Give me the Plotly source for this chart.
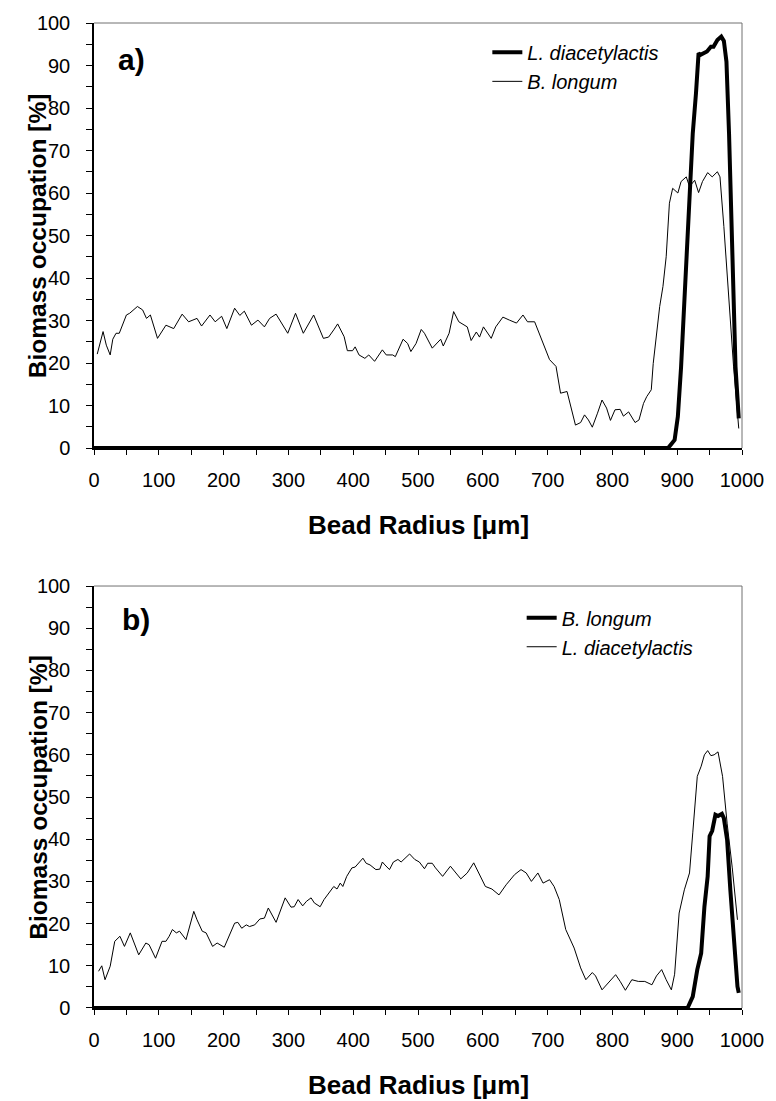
import plotly.graph_objects as go

# ---------------- data ----------------
# Panel a) B. longum (thin line)
a_blong_x = [5, 14, 19, 25, 29, 34, 39, 50, 55, 67, 75, 81, 87, 98, 111, 123, 136, 146, 159, 166,
             179, 187, 197, 205, 217, 225, 232, 243, 253, 263, 271, 281, 299, 311, 323, 339, 354,
             362, 370, 376, 386, 391, 399, 403, 409, 418, 424, 433, 445, 451, 461, 465, 477, 484,
             489, 497, 505, 510, 522, 535, 539, 548, 555, 563, 576, 582, 590, 595, 601, 613, 620,
             631, 641, 652, 662, 669, 680, 687, 695, 703, 713, 720, 730, 743, 751, 757, 763, 769,
             777, 784, 791, 797, 804, 812, 817, 825, 835, 841, 848, 853, 860, 863, 873, 878, 883,
             888, 893, 901, 906, 914, 919, 927, 933, 939, 947, 954, 962, 966, 972, 980, 987, 995]
a_blong_y = [22.1, 27.4, 24.2, 21.9, 25.6, 27, 27, 31.3, 31.7, 33.3, 32.5, 30.5, 31.3, 25.8, 28.9,
             28.1, 31.5, 29.7, 30.5, 28.7, 31.3, 29.7, 31, 28.1, 32.9, 31.2, 32.2, 28.9, 30.1, 28.5,
             30.5, 31.5, 27, 31.7, 27, 31.3, 25.8, 26.1, 27.8, 29.2, 26.2, 22.9, 22.9, 23.8, 21.9,
             21.1, 21.9, 20.4, 23.1, 21.9, 21.9, 21.5, 25.6, 24.6, 22.7, 24.6, 27.9, 27, 23.5, 25.6,
             24, 27, 32.1, 29.7, 28.5, 25.3, 27.3, 26.1, 28.5, 25.8, 28.5, 30.8, 30.1, 29.4, 31.3,
             29.7, 29.7, 27, 23.5, 20.8, 19.2, 12.9, 13.3, 5.4, 6, 7.8, 6.6, 4.9, 8.2, 11.3, 9.4,
             6.5, 9, 9.1, 7.5, 8.5, 6, 6.6, 10.5, 12.1, 13.7, 19.9, 33.3, 38, 45, 57.6, 61.1, 60,
             62.7, 63.8, 61.5, 63, 60.1, 62.7, 64.8, 63.8, 65, 63.8, 52.1, 34.8, 19.1, 4.6]

# Panel a) L. diacetylactis (thick line)
a_ldia_x = [0, 880, 886, 896, 901, 906, 911, 916, 924, 929, 933, 936, 941, 946, 952, 956, 962,
            968, 972, 976, 980, 985, 990, 995]
a_ldia_y = [0, 0, 0, 1.9, 7.4, 19.1, 34.8, 50.5, 74, 83.5, 92.9, 92.5, 92.9, 93.3, 94.4, 94.4,
            96, 96.8, 95.8, 90.9, 74, 42.7, 19.1, 7]

# Panel b) L. diacetylactis (thin line)
b_ldia_x = [7, 12, 17, 25, 32, 40, 47, 56, 62, 69, 80, 85, 95, 105, 111, 116, 121, 127, 132, 142,
            154, 159, 167, 173, 183, 190, 201, 208, 217, 222, 228, 235, 240, 248, 256, 263, 269,
            281, 295, 304, 309, 315, 322, 328, 335, 340, 349, 355, 370, 375, 380, 384, 390, 398,
            403, 415, 420, 426, 435, 441, 445, 449, 456, 462, 469, 474, 487, 495, 502, 510, 515,
            522, 527, 538, 550, 566, 576, 586, 594, 604, 614, 625, 636, 649, 659, 667, 675, 685,
            693, 703, 710, 718, 728, 734, 741, 751, 759, 769, 774, 784, 795, 805, 812, 820, 830,
            840, 850, 861, 868, 876, 883, 891, 896, 903, 911, 919, 924, 931, 937, 942, 947, 952,
            957, 963, 970, 977, 985, 993]
b_ldia_y = [8.7, 10, 6.7, 9.9, 15.8, 17, 14.6, 17.8, 15.4, 12.6, 15.4, 15, 11.8, 15.8, 15.8, 17,
            18.6, 17.8, 18.2, 16.2, 22.9, 20.9, 18.2, 17.8, 14.6, 15.4, 14.4, 17, 20.1, 20.3, 18.9,
            19.7, 19.3, 19.7, 21.1, 21.3, 23.7, 20.3, 26.1, 23.9, 24, 25.7, 24.2, 25.3, 26.1, 24.9,
            24, 25.7, 28.8, 28.2, 29.6, 28.8, 31.2, 33.2, 33.4, 35.5, 34.3, 33.9, 32.8, 32.9, 34.6,
            33.9, 32.8, 34.6, 35.2, 34.6, 36.5, 35.2, 34.6, 33, 34.3, 34.3, 33.2, 31.2, 33.6, 30.6,
            32, 34.4, 32, 28.8, 28.2, 26.8, 29.2, 31.6, 32.8, 32, 30, 32, 29.6, 30.4, 28.8, 25.7,
            18.6, 16.6, 14.2, 9.5, 6.7, 8.4, 7.6, 4.3, 6.3, 7.9, 6.3, 4.2, 6.7, 6.3, 6.3, 5.5, 7.6,
            9.1, 6.7, 4.3, 8, 22.5, 28, 32, 41.5, 54.9, 57.3, 60, 61, 59.8, 60, 60.7, 54.9, 43.8,
            33.2, 20.9]

# Panel b) B. longum (thick line)
b_blong_x = [0, 916, 924, 931, 937, 942, 947, 950, 954, 959, 963, 969, 972, 977, 982, 987, 993, 995]
b_blong_y = [0, 0, 2.7, 9.1, 13, 24, 31.2, 40.7, 42, 45.8, 45.5, 46, 45, 39.9, 28, 16.2, 5.1, 3.6]

x_title = "Bead Radius [μm]"
y_title = "Biomass occupation [%]"
panel_labels = ["a)", "b)"]

# ---------------- figure ----------------
FONT = "Liberation Sans, Arial, sans-serif"
fig = go.Figure()

fig.add_trace(go.Scatter(x=a_ldia_x, y=a_ldia_y, mode="lines", name="L. diacetylactis",
                         line=dict(color="black", width=4), xaxis="x", yaxis="y", legend="legend"))
fig.add_trace(go.Scatter(x=a_blong_x, y=a_blong_y, mode="lines", name="B. longum",
                         line=dict(color="black", width=1), xaxis="x", yaxis="y", legend="legend"))
fig.add_trace(go.Scatter(x=b_blong_x, y=b_blong_y, mode="lines", name="B. longum",
                         line=dict(color="black", width=4), xaxis="x2", yaxis="y2", legend="legend2"))
fig.add_trace(go.Scatter(x=b_ldia_x, y=b_ldia_y, mode="lines", name="L. diacetylactis",
                         line=dict(color="black", width=1), xaxis="x2", yaxis="y2", legend="legend2"))

def xax(anchor):
    return dict(domain=[0, 1], anchor=anchor, range=[0, 1000], tick0=0, dtick=100,
                ticks="outside", ticklen=5, tickwidth=1, tickcolor="black",
                minor=dict(dtick=50, ticks="outside", ticklen=5, tickwidth=1, tickcolor="black"),
                showline=True, linecolor="black", linewidth=1.5, showgrid=False, zeroline=False,
                tickfont=dict(family=FONT, size=20, color="black"), ticklabelstandoff=8)

def xover(over, anchor):
    return dict(overlaying=over, anchor=anchor, range=[0, 1000], tick0=0, dtick=50,
                ticks="inside", ticklen=5, tickwidth=1, tickcolor="black",
                showticklabels=False, showline=False, showgrid=False, zeroline=False)

def yax(anchor, dom):
    return dict(domain=dom, anchor=anchor, range=[0, 100], tick0=0, dtick=10,
                ticks="outside", ticklen=6, tickwidth=1, tickcolor="black",
                minor=dict(dtick=5, ticks="outside", ticklen=6, tickwidth=1, tickcolor="black"),
                showline=True, linecolor="black", linewidth=1.5, showgrid=False, zeroline=False,
                tickfont=dict(family=FONT, size=20, color="black"), ticklabelstandoff=12)

legfont = dict(family=FONT, size=20, color="black", style="italic")

fig.update_layout(
    width=776, height=1101,
    margin=dict(l=94, r=26, t=23, b=93),
    paper_bgcolor="white", plot_bgcolor="white",
    showlegend=True,
    xaxis=xax("y"),
    yaxis=yax("x", [0.5685, 1]),
    xaxis2=xax("y2"),
    yaxis2=yax("x2", [0, 0.4284]),
    xaxis3=xover("x", "y"),
    xaxis4=xover("x2", "y2"),
    legend=dict(x=0.607, y=0.99, xanchor="left", yanchor="top", bgcolor="rgba(0,0,0,0)",
                font=legfont, tracegroupgap=0, itemwidth=30),
    legend2=dict(x=0.660, y=0.416, xanchor="left", yanchor="top", bgcolor="rgba(0,0,0,0)",
                 font=legfont, tracegroupgap=0, itemwidth=30),
    font=dict(family=FONT, color="black"),
)

# thin grey top/right frame of each plot area
for xr, yr in (("x domain", "y domain"), ("x2 domain", "y2 domain")):
    fig.add_shape(type="line", xref=xr, yref=yr, x0=0, x1=1, y0=1, y1=1,
                  line=dict(color="#707070", width=1), layer="below")
    fig.add_shape(type="line", xref=xr, yref=yr, x0=1, x1=1, y0=0, y1=1,
                  line=dict(color="#707070", width=1), layer="below")

# x-axis titles
for yc in (0.4904, -0.0782):
    fig.add_annotation(text=x_title, xref="paper", yref="paper", x=0.5, y=yc,
                       xanchor="center", yanchor="middle", showarrow=False,
                       font=dict(family=FONT, size=26, color="black", weight="bold"))

# y-axis titles
for yc in (0.7843, 0.2142):
    fig.add_annotation(text=y_title, xref="paper", yref="paper", x=-0.0869, y=yc,
                       xanchor="center", yanchor="middle", textangle=-90, showarrow=False,
                       font=dict(family=FONT, size=24.5, color="black", weight="bold"))

# panel labels
for lab, px, py in ((panel_labels[0], 0.0335, 0.9625), (panel_labels[1], 0.0407, 0.3942)):
    fig.add_annotation(text=lab, xref="paper", yref="paper", x=px, y=py, xanchor="left",
                       yanchor="middle", showarrow=False,
                       font=dict(family=FONT, size=30, color="black", weight="bold"))

fig.write_html("out.html")
